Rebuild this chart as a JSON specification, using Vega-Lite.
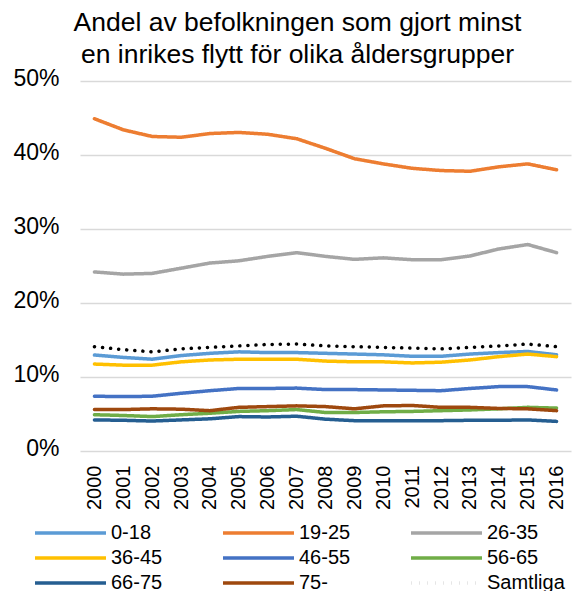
{
  "$schema": "https://vega.github.io/schema/vega-lite/v6.json",
  "autosize": "none",
  "width": 491,
  "height": 370,
  "padding": {"left": 80, "top": 81, "right": 1, "bottom": 140},
  "background": "white",
  "config": {
    "font": "Liberation Sans",
    "view": {"stroke": null}
  },
  "title": {
    "text": ["Andel av befolkningen som gjort minst", "en inrikes flytt för olika åldersgrupper"],
    "font": "Liberation Sans",
    "fontSize": 26.5,
    "fontWeight": "normal",
    "color": "#000000",
    "lineHeight": 32,
    "anchor": "middle",
    "frame": "group",
    "dx": -28,
    "offset": -1
  },
  "data": {
    "values": [
      {"year":"2000","group":"0-18","value":0.1297},{"year":"2001","group":"0-18","value":0.1265},{"year":"2002","group":"0-18","value":0.124},{"year":"2003","group":"0-18","value":0.129},{"year":"2004","group":"0-18","value":0.132},{"year":"2005","group":"0-18","value":0.134},{"year":"2006","group":"0-18","value":0.133},{"year":"2007","group":"0-18","value":0.133},{"year":"2008","group":"0-18","value":0.132},{"year":"2009","group":"0-18","value":0.131},{"year":"2010","group":"0-18","value":0.130},{"year":"2011","group":"0-18","value":0.128},{"year":"2012","group":"0-18","value":0.128},{"year":"2013","group":"0-18","value":0.131},{"year":"2014","group":"0-18","value":0.133},{"year":"2015","group":"0-18","value":0.1345},{"year":"2016","group":"0-18","value":0.130},
      {"year":"2000","group":"19-25","value":0.449},{"year":"2001","group":"19-25","value":0.434},{"year":"2002","group":"19-25","value":0.425},{"year":"2003","group":"19-25","value":0.424},{"year":"2004","group":"19-25","value":0.429},{"year":"2005","group":"19-25","value":0.4305},{"year":"2006","group":"19-25","value":0.428},{"year":"2007","group":"19-25","value":0.422},{"year":"2008","group":"19-25","value":0.409},{"year":"2009","group":"19-25","value":0.395},{"year":"2010","group":"19-25","value":0.388},{"year":"2011","group":"19-25","value":0.382},{"year":"2012","group":"19-25","value":0.379},{"year":"2013","group":"19-25","value":0.378},{"year":"2014","group":"19-25","value":0.384},{"year":"2015","group":"19-25","value":0.388},{"year":"2016","group":"19-25","value":0.380},
      {"year":"2000","group":"26-35","value":0.242},{"year":"2001","group":"26-35","value":0.239},{"year":"2002","group":"26-35","value":0.240},{"year":"2003","group":"26-35","value":0.247},{"year":"2004","group":"26-35","value":0.254},{"year":"2005","group":"26-35","value":0.257},{"year":"2006","group":"26-35","value":0.263},{"year":"2007","group":"26-35","value":0.268},{"year":"2008","group":"26-35","value":0.263},{"year":"2009","group":"26-35","value":0.259},{"year":"2010","group":"26-35","value":0.261},{"year":"2011","group":"26-35","value":0.2585},{"year":"2012","group":"26-35","value":0.2585},{"year":"2013","group":"26-35","value":0.2635},{"year":"2014","group":"26-35","value":0.273},{"year":"2015","group":"26-35","value":0.279},{"year":"2016","group":"26-35","value":0.268},
      {"year":"2000","group":"36-45","value":0.1175},{"year":"2001","group":"36-45","value":0.116},{"year":"2002","group":"36-45","value":0.116},{"year":"2003","group":"36-45","value":0.1205},{"year":"2004","group":"36-45","value":0.123},{"year":"2005","group":"36-45","value":0.124},{"year":"2006","group":"36-45","value":0.124},{"year":"2007","group":"36-45","value":0.124},{"year":"2008","group":"36-45","value":0.1215},{"year":"2009","group":"36-45","value":0.1205},{"year":"2010","group":"36-45","value":0.1205},{"year":"2011","group":"36-45","value":0.119},{"year":"2012","group":"36-45","value":0.120},{"year":"2013","group":"36-45","value":0.123},{"year":"2014","group":"36-45","value":0.1275},{"year":"2015","group":"36-45","value":0.131},{"year":"2016","group":"36-45","value":0.1275},
      {"year":"2000","group":"46-55","value":0.074},{"year":"2001","group":"46-55","value":0.0735},{"year":"2002","group":"46-55","value":0.074},{"year":"2003","group":"46-55","value":0.078},{"year":"2004","group":"46-55","value":0.0815},{"year":"2005","group":"46-55","value":0.0845},{"year":"2006","group":"46-55","value":0.0845},{"year":"2007","group":"46-55","value":0.085},{"year":"2008","group":"46-55","value":0.083},{"year":"2009","group":"46-55","value":0.083},{"year":"2010","group":"46-55","value":0.0825},{"year":"2011","group":"46-55","value":0.082},{"year":"2012","group":"46-55","value":0.0815},{"year":"2013","group":"46-55","value":0.0845},{"year":"2014","group":"46-55","value":0.087},{"year":"2015","group":"46-55","value":0.087},{"year":"2016","group":"46-55","value":0.0825},
      {"year":"2000","group":"56-65","value":0.049},{"year":"2001","group":"56-65","value":0.048},{"year":"2002","group":"56-65","value":0.0465},{"year":"2003","group":"56-65","value":0.049},{"year":"2004","group":"56-65","value":0.051},{"year":"2005","group":"56-65","value":0.0535},{"year":"2006","group":"56-65","value":0.0545},{"year":"2007","group":"56-65","value":0.056},{"year":"2008","group":"56-65","value":0.052},{"year":"2009","group":"56-65","value":0.052},{"year":"2010","group":"56-65","value":0.053},{"year":"2011","group":"56-65","value":0.0535},{"year":"2012","group":"56-65","value":0.0545},{"year":"2013","group":"56-65","value":0.0555},{"year":"2014","group":"56-65","value":0.057},{"year":"2015","group":"56-65","value":0.059},{"year":"2016","group":"56-65","value":0.058},
      {"year":"2000","group":"66-75","value":0.042},{"year":"2001","group":"66-75","value":0.0415},{"year":"2002","group":"66-75","value":0.0405},{"year":"2003","group":"66-75","value":0.042},{"year":"2004","group":"66-75","value":0.0435},{"year":"2005","group":"66-75","value":0.0465},{"year":"2006","group":"66-75","value":0.046},{"year":"2007","group":"66-75","value":0.047},{"year":"2008","group":"66-75","value":0.043},{"year":"2009","group":"66-75","value":0.041},{"year":"2010","group":"66-75","value":0.041},{"year":"2011","group":"66-75","value":0.041},{"year":"2012","group":"66-75","value":0.041},{"year":"2013","group":"66-75","value":0.0415},{"year":"2014","group":"66-75","value":0.0415},{"year":"2015","group":"66-75","value":0.042},{"year":"2016","group":"66-75","value":0.040},
      {"year":"2000","group":"75-","value":0.056},{"year":"2001","group":"75-","value":0.056},{"year":"2002","group":"75-","value":0.057},{"year":"2003","group":"75-","value":0.0565},{"year":"2004","group":"75-","value":0.0545},{"year":"2005","group":"75-","value":0.059},{"year":"2006","group":"75-","value":0.060},{"year":"2007","group":"75-","value":0.061},{"year":"2008","group":"75-","value":0.060},{"year":"2009","group":"75-","value":0.057},{"year":"2010","group":"75-","value":0.061},{"year":"2011","group":"75-","value":0.0615},{"year":"2012","group":"75-","value":0.059},{"year":"2013","group":"75-","value":0.059},{"year":"2014","group":"75-","value":0.0575},{"year":"2015","group":"75-","value":0.057},{"year":"2016","group":"75-","value":0.0545},
      {"year":"2000","group":"Samtliga","value":0.141},{"year":"2001","group":"Samtliga","value":0.137},{"year":"2002","group":"Samtliga","value":0.134},{"year":"2003","group":"Samtliga","value":0.138},{"year":"2004","group":"Samtliga","value":0.140},{"year":"2005","group":"Samtliga","value":0.142},{"year":"2006","group":"Samtliga","value":0.144},{"year":"2007","group":"Samtliga","value":0.1445},{"year":"2008","group":"Samtliga","value":0.142},{"year":"2009","group":"Samtliga","value":0.141},{"year":"2010","group":"Samtliga","value":0.140},{"year":"2011","group":"Samtliga","value":0.139},{"year":"2012","group":"Samtliga","value":0.138},{"year":"2013","group":"Samtliga","value":0.140},{"year":"2014","group":"Samtliga","value":0.142},{"year":"2015","group":"Samtliga","value":0.1445},{"year":"2016","group":"Samtliga","value":0.141}
    ]
  },
  "mark": {"type": "line", "strokeWidth": 3.5, "strokeCap": "round", "strokeJoin": "round"},
  "encoding": {
    "x": {
      "field": "year",
      "type": "ordinal",
      "scale": {"type": "point", "padding": 0.5},
      "axis": {
        "title": null,
        "labelAngle": -90,
        "labelAlign": "right",
        "labelBaseline": "middle",
        "labelFontSize": 20,
        "labelColor": "#000000",
        "labelPadding": 14,
        "ticks": false,
        "domain": false,
        "grid": false
      }
    },
    "y": {
      "field": "value",
      "type": "quantitative",
      "scale": {"domain": [0, 0.5], "nice": false, "zero": true},
      "axis": {
        "title": null,
        "format": ".0%",
        "values": [0, 0.1, 0.2, 0.3, 0.4, 0.5],
        "labelFontSize": 23,
        "labelColor": "#000000",
        "labelPadding": 21,
        "labelOffset": -3,
        "ticks": false,
        "domain": false,
        "grid": true,
        "gridColor": "#D9D9D9",
        "gridWidth": 1.3
      }
    },
    "color": {
      "field": "group",
      "type": "nominal",
      "scale": {
        "domain": ["0-18", "19-25", "26-35", "36-45", "46-55", "56-65", "66-75", "75-", "Samtliga"],
        "range": ["#5B9BD5", "#ED7D31", "#A5A5A5", "#FFC000", "#4472C4", "#70AD47", "#255E91", "#9E480E", "#000000"]
      },
      "legend": {
        "title": null,
        "orient": "none",
        "legendX": -47,
        "legendY": 440,
        "direction": "horizontal",
        "columns": 3,
        "columnPadding": 53,
        "rowPadding": 3,
        "padding": 0,
        "symbolType": "M-1,0H6.1",
        "symbolSize": 400,
        "symbolStrokeWidth": 3.5,
        "labelFontSize": 20,
        "labelColor": "#000000",
        "labelOffset": 54,
        "labelLimit": 200
      }
    },
    "strokeDash": {
      "field": "group",
      "type": "nominal",
      "scale": {
        "domain": ["0-18", "19-25", "26-35", "36-45", "46-55", "56-65", "66-75", "75-", "Samtliga"],
        "range": [[1, 0], [1, 0], [1, 0], [1, 0], [1, 0], [1, 0], [1, 0], [1, 0], [0.1, 8]]
      }
    }
  }
}
